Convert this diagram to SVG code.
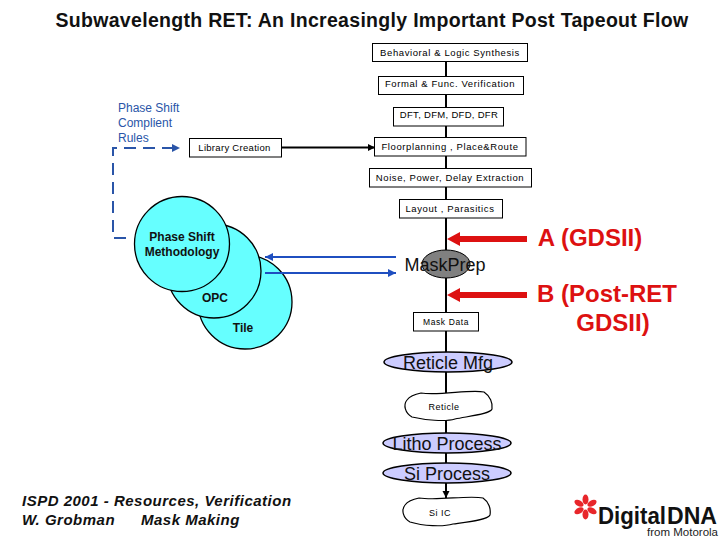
<svg xmlns="http://www.w3.org/2000/svg" width="720" height="540" viewBox="0 0 720 540">
<defs>
<marker id="blk" markerUnits="userSpaceOnUse" markerWidth="8" markerHeight="8" refX="7" refY="4" orient="auto"><path d="M0,0.5L7,4L0,7.5Z" fill="#000"/></marker>
<marker id="blu" markerUnits="userSpaceOnUse" markerWidth="9" markerHeight="9" refX="8" refY="4.5" orient="auto"><path d="M0,0.5L8,4.5L0,8.5Z" fill="#1f4fc0"/></marker>
<marker id="dsh" markerUnits="userSpaceOnUse" markerWidth="9" markerHeight="9" refX="8" refY="4.5" orient="auto"><path d="M0,0.5L8,4.5L0,8.5Z" fill="#2a55a8"/></marker>
</defs>
<style>
text{font-family:"Liberation Sans",Arial,sans-serif}
.box rect{fill:#fff;stroke:#000;stroke-width:1}
.box text{font-size:9.5px;text-anchor:middle;letter-spacing:.6px}
.circ circle{fill:#66ffff;stroke:#000;stroke-width:1.3}
.circ text{font-size:12px;font-weight:bold;text-anchor:middle;fill:#111}
.ell ellipse{fill:#ccccff;stroke:#000;stroke-width:1.5}
.ell text{font-size:18px;text-anchor:middle;fill:#111}
.blob path{fill:#fff;stroke:#000;stroke-width:1.2}
.blob text{font-size:9px;text-anchor:middle;letter-spacing:.5px}
.red{font-size:24px;font-weight:bold;fill:#dd1111;text-anchor:middle}
.cap{font-size:15px;font-style:italic;font-weight:bold;letter-spacing:.5px;fill:#111}
</style>
<text x="372" y="27" font-size="19.5" font-weight="bold" text-anchor="middle" fill="#111" letter-spacing=".3">Subwavelength RET: An Increasingly Important Post Tapeout Flow</text>

<g id="n-tile" class="circ"><circle cx="245" cy="302" r="47"/><text x="243" y="332">Tile</text></g>
<g id="n-opc" class="circ"><circle cx="214" cy="271" r="47"/><text x="215" y="302">OPC</text></g>
<g id="n-psm" class="circ"><circle cx="182" cy="244" r="47.500"/><text x="182" y="241">Phase Shift</text><text x="182" y="256">Methodology</text></g>

<g id="connectors" fill="none">
<line x1="446" y1="62" x2="446" y2="312" stroke="#000" stroke-width="2"/>
<line x1="446" y1="331" x2="446" y2="393" stroke="#000" stroke-width="2"/>
<line x1="446" y1="420" x2="446" y2="498" stroke="#000" stroke-width="2" marker-end="url(#blk)"/>
<line x1="282" y1="147.500" x2="375" y2="147.500" stroke="#000" stroke-width="2" marker-end="url(#blk)"/>
<path d="M126,238H113V148H180" stroke="#2a55a8" stroke-width="2" stroke-dasharray="12 7" marker-end="url(#dsh)"/>
<line x1="396" y1="257" x2="265" y2="257" stroke="#1f4fc0" stroke-width="2" marker-end="url(#blu)"/>
<line x1="265" y1="273" x2="396" y2="273" stroke="#1f4fc0" stroke-width="2" marker-end="url(#blu)"/>
<path d="M527,236H460V232L447,239L460,246V242H527Z" fill="#dd1111"/>
<path d="M527,292H460V288L447,295L460,302V298H527Z" fill="#dd1111"/>
</g>

<g id="n-rules"><text x="118" y="112" font-size="12" fill="#2a55a8">Phase Shift</text><text x="118" y="127" font-size="12" fill="#2a55a8">Complient</text><text x="118" y="142" font-size="12" fill="#2a55a8">Rules</text></g>
<g id="n-behav" class="box"><rect x="372.500" y="43.500" width="155" height="18"/><text x="450" y="56">Behavioral &amp; Logic Synthesis</text></g>
<g id="n-formal" class="box"><rect x="378.500" y="76.500" width="145" height="18"/><text x="450" y="87">Formal &amp; Func. Verification</text></g>
<g id="n-dft" class="box"><rect x="393.500" y="107.500" width="110" height="18.500"/><text x="449" y="118" style="letter-spacing:.3px">DFT, DFM, DFD, DFR</text></g>
<g id="n-floor" class="box"><rect x="374.500" y="137.500" width="151.500" height="18.500"/><text x="450" y="150">Floorplanning , Place&amp;Route</text></g>
<g id="n-noise" class="box"><rect x="369.500" y="168.500" width="162" height="18.500"/><text x="450" y="181">Noise, Power, Delay Extraction</text></g>
<g id="n-layout" class="box"><rect x="399.500" y="199.500" width="103" height="18.500"/><text x="450" y="212">Layout , Parasitics</text></g>
<g id="n-lib" class="box"><rect x="189.500" y="138.500" width="92" height="18.500"/><text x="234.500" y="151" style="letter-spacing:.3px">Library Creation</text></g>
<g id="n-maskdata" class="box"><rect x="413.500" y="312.500" width="65" height="18.500"/><text x="446" y="325" style="font-size:8.5px">Mask Data</text></g>

<g id="n-maskprep"><ellipse cx="446" cy="264" rx="24" ry="14" fill="#808080" stroke="#000" stroke-width="1"/><text x="445" y="271" font-size="18" text-anchor="middle" fill="#111">MaskPrep</text></g>
<g id="n-reticlemfg" class="ell"><ellipse cx="448" cy="362" rx="64" ry="10"/><text x="448" y="369">Reticle Mfg</text></g>
<g id="n-reticle" class="blob"><path d="M421,393C440,396 470,389 484,392C490,396 493,403 492,409C490,414 470,416 455,419C445,422 425,420 412,417C405,413 403,405 407,400C410,396 416,394 421,393Z"/><text x="444" y="410">Reticle</text></g>
<g id="n-litho" class="ell"><ellipse cx="447" cy="443" rx="64" ry="10"/><text x="447" y="450">Litho Process</text></g>
<g id="n-si" class="ell"><ellipse cx="447" cy="473" rx="64" ry="10"/><text x="447" y="480">Si Process</text></g>
<g id="n-siic" class="blob"><path d="M419,498C438,501 468,495 483,498C489,502 491,509 490,515C488,520 468,522 453,524C443,527 423,526 410,522C403,518 401,510 405,505C408,501 414,499 419,498Z"/><text x="440" y="516">Si IC</text></g>

<text class="red" x="590" y="246">A (GDSII)</text>
<text class="red" x="607" y="302">B (Post-RET</text>
<text class="red" x="613" y="331">GDSII)</text>

<text class="cap" x="22" y="506">ISPD 2001 - Resources, Verification</text>
<text class="cap" x="22" y="525">W. Grobman</text>
<text class="cap" x="141" y="525">Mask Making</text>

<g id="logo">
<g fill="#e8262a"><ellipse cx="585.500" cy="499.500" rx="3" ry="5"/><ellipse cx="585.500" cy="499.500" rx="3" ry="5" transform="rotate(60 585.500 507)"/><ellipse cx="585.500" cy="499.500" rx="3" ry="5" transform="rotate(120 585.500 507)"/><ellipse cx="585.500" cy="499.500" rx="3" ry="5" transform="rotate(180 585.500 507)"/><ellipse cx="585.500" cy="499.500" rx="3" ry="5" transform="rotate(240 585.500 507)"/><ellipse cx="585.500" cy="499.500" rx="3" ry="5" transform="rotate(300 585.500 507)"/></g>
<text x="598" y="524" font-size="23" font-weight="bold" fill="#111" textLength="68" lengthAdjust="spacingAndGlyphs">Digital</text>
<text x="667" y="524" font-size="23" font-weight="bold" fill="#111" textLength="50" lengthAdjust="spacingAndGlyphs">DNA</text>
<text x="718" y="536" font-size="11.500" fill="#222" text-anchor="end">from Motorola</text>
</g>
</svg>
